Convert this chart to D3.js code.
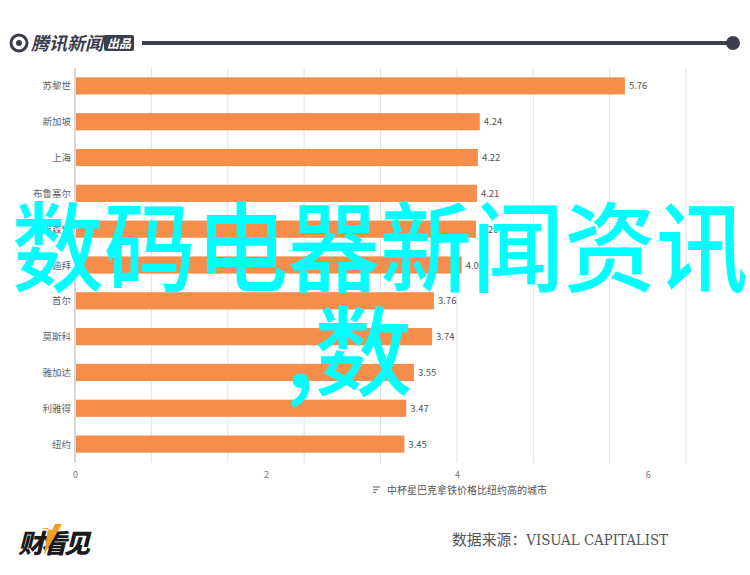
<!DOCTYPE html>
<html>
<head>
<meta charset="utf-8">
<script src="https://cdn.jsdelivr.net/npm/d3@7"></script>
<style>
  html, body { margin: 0; padding: 0; background: #fff; }
  svg { display: block; }
</style>
</head>
<body>
<svg id="chart" width="750" height="575"></svg>
<script>
// --- Data ---
const cities = ["苏黎世", "新加坡", "上海", "布鲁塞尔", "卢森堡", "迪拜", "首尔", "莫斯科", "雅加达", "利雅得", "纽约"];
const prices = [5.76, 4.24, 4.22, 4.21, 4.20, 4.05, 3.76, 3.74, 3.55, 3.47, 3.45];
const tickValues = [0, 2, 4, 6];
const gridValues = [0, 0.8, 1.6, 2.4, 3.2, 4.0, 4.8, 5.6, 6.4];
const caption = "中杯星巴克拿铁价格比纽约高的城市";
const source = "数据来源：VISUAL CAPITALIST";
const watermark = ["数码电器新闻资讯", ",数"];

const FONT = "'Noto Sans CJK SC', 'Noto Sans', sans-serif";
const ORANGE = "#f68e4b";

const svg = d3.select("#chart");

// --- Header: tencent news mark + rule ---
const head = svg.append("g");
head.append("circle").attr("cx", 19).attr("cy", 43).attr("r", 8)
  .attr("fill", "none").attr("stroke", "#3a3f4b").attr("stroke-width", 3);
head.append("circle").attr("cx", 19).attr("cy", 43).attr("r", 3).attr("fill", "#3a3f4b");
head.append("text").attr("x", 31).attr("y", 50)
  .attr("font-family", FONT).attr("font-size", 18).attr("font-weight", 700)
  .attr("font-style", "italic").attr("fill", "#3a3f4b")
  .text("腾讯新闻");
head.append("rect").attr("x", 104).attr("y", 35).attr("width", 30).attr("height", 16)
  .attr("rx", 2).attr("fill", "#3a3f4b");
head.append("text").attr("x", 119).attr("y", 48).attr("text-anchor", "middle")
  .attr("font-family", FONT).attr("font-size", 12).attr("font-weight", 700)
  .attr("font-style", "italic").attr("fill", "#fff")
  .text("出品");
head.append("line").attr("x1", 142).attr("x2", 730).attr("y1", 43).attr("y2", 43)
  .attr("stroke", "#3a3f4b").attr("stroke-width", 4);
head.append("circle").attr("cx", 733).attr("cy", 43).attr("r", 7).attr("fill", "#3a3f4b");

// --- Scales ---
const x = d3.scaleLinear().domain([0, 6.4]).range([75, 686]);
const y = d3.scaleBand().domain(cities).range([68, 462])
  .paddingInner(0.52).paddingOuter(0.26);

// --- Grid ---
svg.append("g").selectAll("line").data(gridValues).join("line")
  .attr("x1", d => x(d)).attr("x2", d => x(d))
  .attr("y1", 68).attr("y2", 463)
  .attr("stroke", "#e2e2e2").attr("stroke-width", 1);

// --- Bars ---
svg.append("g").selectAll("rect").data(prices).join("rect")
  .attr("x", x(0))
  .attr("y", (d, i) => y(cities[i]))
  .attr("width", d => x(d) - x(0))
  .attr("height", y.bandwidth())
  .attr("fill", ORANGE);

// value labels
svg.append("g").selectAll("text").data(prices).join("text")
  .attr("x", d => x(d) + 4)
  .attr("y", (d, i) => y(cities[i]) + y.bandwidth() / 2 + 3.5)
  .attr("font-family", FONT).attr("font-size", 9.5).attr("fill", "#555")
  .text(d => d.toFixed(2));

// category labels
svg.append("g").selectAll("text").data(cities).join("text")
  .attr("x", 71)
  .attr("y", d => y(d) + y.bandwidth() / 2 + 3.5)
  .attr("text-anchor", "end")
  .attr("font-family", FONT).attr("font-size", 9.5).attr("fill", "#666")
  .text(d => d);

// left axis line
svg.append("line").attr("x1", x(0)).attr("x2", x(0)).attr("y1", 68).attr("y2", 463)
  .attr("stroke", "#d8d8d8").attr("stroke-width", 2);

// --- X tick labels (no axis line) ---
const xAxis = svg.append("g").attr("transform", "translate(0,469)")
  .call(d3.axisBottom(x).tickValues(tickValues).tickSize(0).tickFormat(d3.format("d")));
xAxis.select(".domain").remove();
xAxis.selectAll("text").attr("font-family", FONT).attr("font-size", 9).attr("fill", "#777");

// --- Caption ---
const cap = svg.append("g");
[0, 3, 6].forEach((dy, i) => {
  cap.append("line").attr("x1", 373).attr("x2", 380 - i * 2)
    .attr("y1", 487 + dy * 0.9).attr("y2", 487 + dy * 0.9)
    .attr("stroke", "#777").attr("stroke-width", 1.2);
});
cap.append("text").attr("x", 387).attr("y", 494)
  .attr("font-family", FONT).attr("font-size", 10).attr("fill", "#555")
  .text(caption);

// --- Footer ---
const logo = svg.append("g");
logo.append("text").attr("x", 18).attr("y", 553)
  .attr("font-family", FONT).attr("font-size", 26).attr("font-weight", 900)
  .attr("font-style", "italic").attr("fill", "#1a1a1a")
  .attr("letter-spacing", -3)
  .text("财看见");
logo.append("path")
  .attr("d", "M40,528 L48,528 L44,555 L62,524 L55,524 L52,530 Z")
  .attr("fill", "#f0a020");

svg.append("text").attr("x", 452).attr("y", 545)
  .attr("font-family", "'DejaVu Serif Condensed', 'Liberation Serif', 'Noto Sans CJK SC', serif")
  .attr("font-size", 15).attr("fill", "#555")
  .attr("textLength", 216).attr("lengthAdjust", "spacingAndGlyphs")
  .text(source);

// --- Watermark overlay ---
svg.append("text").attr("x", 380).attr("y", 284).attr("text-anchor", "middle")
  .attr("font-family", FONT).attr("font-size", 98).attr("font-weight", 500)
  .attr("fill", "#00ffff")
  .attr("textLength", 736).attr("lengthAdjust", "spacingAndGlyphs")
  .text(watermark[0]);
svg.append("text").attr("x", 349).attr("y", 388).attr("text-anchor", "middle")
  .attr("font-family", FONT).attr("font-size", 98).attr("font-weight", 500)
  .attr("fill", "#00ffff")
  .text(watermark[1]);
</script>
</body>
</html>
